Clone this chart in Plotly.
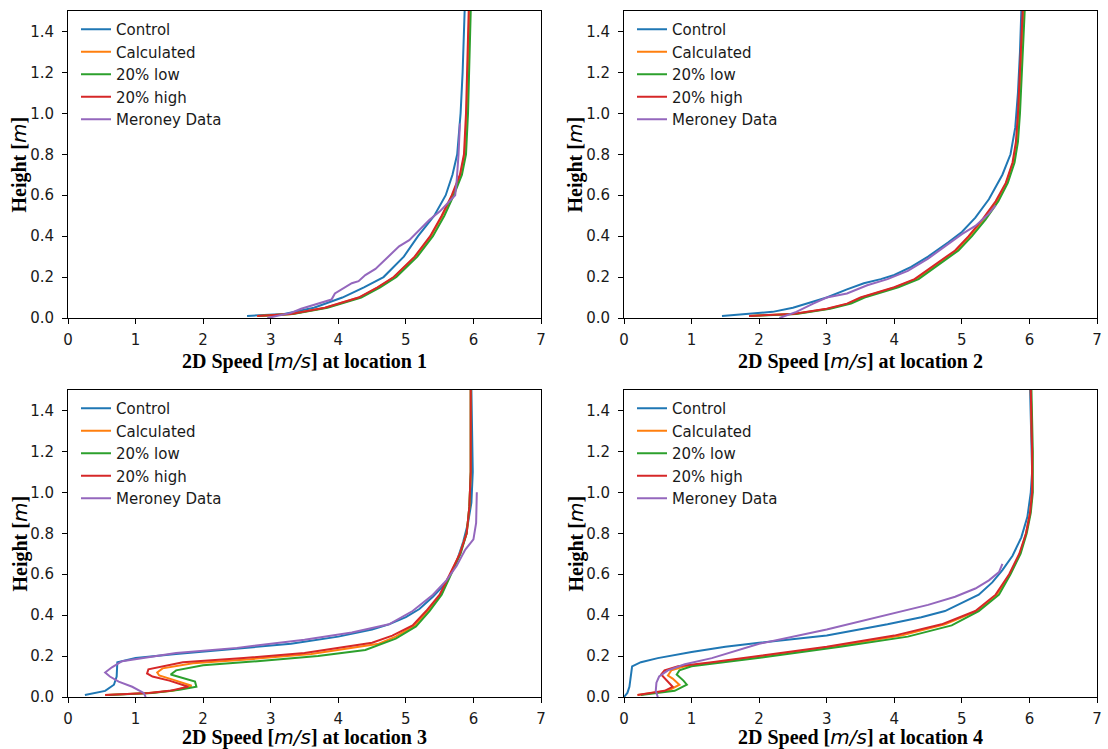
import plotly.graph_objects as go

# ---------------- wind-speed profiles (speed in m/s, height in m) ----------------
# Location 1
ctrl1_v = [2.65, 3.20, 3.64, 4.06, 4.38, 4.67, 4.97, 5.18, 5.42, 5.59, 5.69, 5.76, 5.81, 5.84, 5.87]
ctrl1_h = [0.01, 0.02, 0.05, 0.10, 0.15, 0.20, 0.30, 0.40, 0.50, 0.60, 0.70, 0.80, 1.00, 1.20, 1.50]
calc1_v = [2.80, 3.31, 3.81, 4.31, 4.59, 4.83, 5.14, 5.37, 5.54, 5.69, 5.81, 5.87, 5.90, 5.92, 5.94]
calc1_h = [0.01, 0.02, 0.05, 0.10, 0.15, 0.20, 0.30, 0.40, 0.50, 0.60, 0.70, 0.80, 1.00, 1.20, 1.50]
low1_v = [2.82, 3.33, 3.84, 4.34, 4.62, 4.86, 5.17, 5.40, 5.57, 5.71, 5.83, 5.89, 5.92, 5.94, 5.96]
low1_h = [0.01, 0.02, 0.05, 0.10, 0.15, 0.20, 0.30, 0.40, 0.50, 0.60, 0.70, 0.80, 1.00, 1.20, 1.50]
high1_v = [2.80, 3.30, 3.80, 4.30, 4.58, 4.82, 5.13, 5.36, 5.53, 5.68, 5.80, 5.86, 5.89, 5.91, 5.93]
high1_h = [0.01, 0.02, 0.05, 0.10, 0.15, 0.20, 0.30, 0.40, 0.50, 0.60, 0.70, 0.80, 1.00, 1.20, 1.50]
mer1_v = [2.95, 3.30, 3.45, 3.60, 3.90, 3.95, 4.10, 4.20, 4.30, 4.40, 4.55, 4.75, 4.90, 5.05,
          5.20, 5.35, 5.50, 5.65, 5.73, 5.75, 5.78, 5.80]
mer1_h = [0.00, 0.025, 0.045, 0.06, 0.09, 0.12, 0.15, 0.17, 0.18, 0.21, 0.24, 0.30, 0.35, 0.38,
          0.43, 0.48, 0.52, 0.57, 0.60, 0.66, 0.80, 0.95]

# Location 2
ctrl2_v = [1.45, 2.20, 2.50, 2.80, 3.00, 3.30, 3.55, 3.80, 4.00, 4.25, 4.50, 4.80, 5.00, 5.20,
           5.40, 5.60, 5.72, 5.79, 5.83, 5.86, 5.88]
ctrl2_h = [0.01, 0.03, 0.05, 0.08, 0.10, 0.14, 0.17, 0.19, 0.21, 0.25, 0.30, 0.37, 0.42, 0.49,
           0.58, 0.70, 0.80, 0.93, 1.10, 1.30, 1.50]
calc2_v = [1.85, 2.52, 3.02, 3.32, 3.52, 3.72, 4.02, 4.32, 4.62, 4.92, 5.12, 5.32, 5.52, 5.66,
           5.76, 5.81, 5.84, 5.88, 5.91]
calc2_h = [0.01, 0.02, 0.045, 0.07, 0.10, 0.12, 0.15, 0.19, 0.26, 0.33, 0.40, 0.48, 0.57, 0.66,
           0.76, 0.86, 1.00, 1.30, 1.50]
low2_v = [1.88, 2.55, 3.05, 3.36, 3.56, 3.76, 4.06, 4.36, 4.66, 4.95, 5.15, 5.35, 5.54, 5.68,
          5.78, 5.83, 5.86, 5.90, 5.93]
low2_h = [0.01, 0.02, 0.045, 0.07, 0.10, 0.12, 0.15, 0.19, 0.26, 0.33, 0.40, 0.48, 0.57, 0.66,
          0.76, 0.86, 1.00, 1.30, 1.50]
high2_v = [1.85, 2.50, 3.00, 3.30, 3.50, 3.70, 4.00, 4.30, 4.60, 4.90, 5.10, 5.30, 5.50, 5.65,
           5.75, 5.80, 5.83, 5.87, 5.90]
high2_h = [0.01, 0.02, 0.045, 0.07, 0.10, 0.12, 0.15, 0.19, 0.26, 0.33, 0.40, 0.48, 0.57, 0.66,
           0.76, 0.86, 1.00, 1.30, 1.50]
mer2_v = [2.30, 2.55, 2.80, 3.00, 3.30, 3.60, 3.90, 4.20, 4.50, 4.80, 5.00, 5.20, 5.40, 5.50]
mer2_h = [0.00, 0.03, 0.07, 0.10, 0.12, 0.16, 0.19, 0.23, 0.29, 0.36, 0.41, 0.45, 0.51, 0.55]

# Location 3
ctrl3_v = [0.25, 0.55, 0.68, 0.72, 0.73, 1.00, 1.60, 2.50, 3.30, 4.00, 4.50, 4.75, 5.00, 5.20,
           5.40, 5.60, 5.75, 5.85, 5.92, 5.97, 5.99, 5.98, 5.97]
ctrl3_h = [0.01, 0.03, 0.06, 0.10, 0.17, 0.19, 0.21, 0.235, 0.26, 0.295, 0.33, 0.355, 0.39, 0.43,
           0.49, 0.56, 0.66, 0.76, 0.85, 0.95, 1.10, 1.30, 1.50]
calc3_v = [0.55, 1.20, 1.55, 1.83, 1.55, 1.35, 1.32, 1.40, 1.85, 2.70, 3.60, 4.10, 4.60, 4.85,
           5.13, 5.32, 5.52, 5.66, 5.80, 5.90, 5.94, 5.96, 5.96]
calc3_h = [0.01, 0.02, 0.03, 0.055, 0.085, 0.105, 0.12, 0.14, 0.165, 0.185, 0.21, 0.235, 0.26, 0.295,
           0.35, 0.42, 0.50, 0.60, 0.70, 0.80, 0.93, 1.10, 1.50]
low3_v = [0.60, 1.25, 1.65, 1.90, 1.88, 1.65, 1.52, 1.60, 2.00, 2.80, 3.70, 4.40, 4.85, 5.15,
          5.35, 5.53, 5.67, 5.81, 5.90, 5.94, 5.96, 5.96]
low3_h = [0.01, 0.02, 0.035, 0.05, 0.075, 0.095, 0.11, 0.13, 0.155, 0.175, 0.20, 0.23, 0.285, 0.345,
          0.42, 0.50, 0.60, 0.70, 0.80, 0.93, 1.10, 1.50]
high3_v = [0.55, 1.20, 1.50, 1.78, 1.50, 1.25, 1.17, 1.19, 1.70, 2.60, 3.50, 4.00, 4.50, 4.80,
           5.10, 5.30, 5.50, 5.65, 5.80, 5.90, 5.94, 5.96, 5.96]
high3_h = [0.01, 0.02, 0.03, 0.05, 0.08, 0.10, 0.115, 0.135, 0.17, 0.19, 0.215, 0.24, 0.265, 0.30,
           0.35, 0.42, 0.50, 0.60, 0.70, 0.80, 0.93, 1.10, 1.50]
mer3_v = [1.15, 1.12, 0.95, 0.75, 0.62, 0.55, 0.65, 0.75, 0.80, 1.60, 2.50, 3.50, 4.20, 4.75,
          5.10, 5.40, 5.60, 5.75, 5.88, 6.00, 6.04, 6.05]
mer3_h = [0.00, 0.02, 0.05, 0.075, 0.10, 0.12, 0.145, 0.165, 0.175, 0.215, 0.24, 0.28, 0.315, 0.355,
          0.42, 0.50, 0.57, 0.64, 0.72, 0.77, 0.85, 1.00]

# Location 4
ctrl4_v = [0.00, 0.05, 0.08, 0.10, 0.12, 0.25, 0.50, 1.00, 1.50, 2.00, 3.00, 3.90, 4.40, 4.75,
           5.00, 5.25, 5.45, 5.60, 5.75, 5.88, 5.97, 6.02, 6.04, 6.03, 6.01]
ctrl4_h = [0.00, 0.02, 0.05, 0.10, 0.15, 0.17, 0.19, 0.22, 0.245, 0.265, 0.30, 0.355, 0.39, 0.42,
           0.46, 0.50, 0.56, 0.62, 0.69, 0.78, 0.88, 1.00, 1.10, 1.30, 1.50]
calc4_v = [0.20, 0.65, 0.82, 0.72, 0.65, 0.70, 0.90, 1.40, 2.10, 3.10, 4.10, 4.75, 5.22, 5.52,
           5.71, 5.86, 5.95, 6.01, 6.04, 6.04, 6.02]
calc4_h = [0.01, 0.03, 0.06, 0.09, 0.105, 0.13, 0.15, 0.17, 0.20, 0.245, 0.30, 0.355, 0.42, 0.50,
           0.60, 0.70, 0.80, 0.90, 1.00, 1.20, 1.50]
low4_v = [0.25, 0.75, 0.93, 0.88, 0.78, 0.82, 1.00, 1.50, 2.20, 3.20, 4.20, 4.85, 5.25, 5.55,
          5.72, 5.87, 5.96, 6.02, 6.05, 6.05, 6.03]
low4_h = [0.01, 0.03, 0.06, 0.08, 0.11, 0.13, 0.15, 0.17, 0.20, 0.245, 0.295, 0.35, 0.42, 0.50,
          0.60, 0.70, 0.80, 0.90, 1.00, 1.20, 1.50]
high4_v = [0.20, 0.60, 0.72, 0.60, 0.55, 0.60, 0.80, 1.30, 2.00, 3.00, 4.00, 4.70, 5.20, 5.50,
           5.70, 5.85, 5.95, 6.01, 6.04, 6.04, 6.02]
high4_h = [0.01, 0.03, 0.05, 0.09, 0.11, 0.13, 0.15, 0.17, 0.20, 0.245, 0.30, 0.355, 0.42, 0.50,
           0.60, 0.70, 0.80, 0.90, 1.00, 1.20, 1.50]
mer4_v = [0.50, 0.47, 0.48, 0.52, 0.65, 0.90, 1.30, 2.00, 3.00, 3.90, 4.50, 4.90, 5.20, 5.40,
          5.55, 5.60]
mer4_h = [0.00, 0.03, 0.07, 0.10, 0.13, 0.16, 0.19, 0.26, 0.33, 0.40, 0.45, 0.49, 0.53, 0.57,
          0.61, 0.65]

series_names = ["Control", "Calculated", "20% low", "20% high", "Meroney Data"]
series_colors = ["#1f77b4", "#ff7f0e", "#2ca02c", "#d62728", "#9467bd"]
x_ticks = [0, 1, 2, 3, 4, 5, 6, 7]
y_ticks = [0.0, 0.2, 0.4, 0.6, 0.8, 1.0, 1.2, 1.4]

locations = [
    [(ctrl1_v, ctrl1_h), (calc1_v, calc1_h), (low1_v, low1_h), (high1_v, high1_h), (mer1_v, mer1_h)],
    [(ctrl2_v, ctrl2_h), (calc2_v, calc2_h), (low2_v, low2_h), (high2_v, high2_h), (mer2_v, mer2_h)],
    [(ctrl3_v, ctrl3_h), (calc3_v, calc3_h), (low3_v, low3_h), (high3_v, high3_h), (mer3_v, mer3_h)],
    [(ctrl4_v, ctrl4_h), (calc4_v, calc4_h), (low4_v, low4_h), (high4_v, high4_h), (mer4_v, mer4_h)],
]

# ---------------- layout geometry (pixels of a 1108 x 749 canvas) ----------------
W, H = 1108, 749
col_px = [(68, 541), (624, 1097)]
row_px = [(11, 318), (390, 697)]  # (top, bottom)

fig = go.Figure()
layout = dict(
    width=W, height=H,
    margin=dict(l=0, r=0, t=0, b=0),
    paper_bgcolor="white", plot_bgcolor="white",
    font=dict(family="DejaVu Sans", size=15, color="black"),
    showlegend=True,
)

# bold serif labels with the units set in a sans italic, like math text
math = "<span style='font-family:DejaVu Sans;font-weight:normal'><i>{}</i></span>"
title_font = dict(family="Liberation Serif", size=20, color="black")

annotations = []
for k, series in enumerate(locations):
    r, c = divmod(k, 2)
    x0, x1 = col_px[c]
    top, bot = row_px[r]
    sfx = "" if k == 0 else str(k + 1)
    xa, ya = "x" + sfx, "y" + sfx
    leg = "legend" + sfx

    for (vals, hts), name, color in zip(series, series_names, series_colors):
        fig.add_trace(go.Scatter(
            x=vals, y=hts, mode="lines", name=name,
            line=dict(color=color, width=2),
            xaxis=xa, yaxis=ya, legend=leg, legendgroup=name + sfx,
            hoverinfo="skip",
        ))

    axis_common = dict(
        showgrid=False, zeroline=False, showline=True, mirror=True,
        linecolor="black", linewidth=1, ticks="outside", ticklen=5,
        tickwidth=1, tickcolor="black", automargin=False,
        tickfont=dict(family="DejaVu Sans", size=15, color="#1a1a1a"),
    )
    layout["xaxis" + sfx] = dict(
        axis_common, domain=[x0 / W, x1 / W], range=[0, 7],
        tickvals=x_ticks, ticktext=[str(t) for t in x_ticks],
        anchor=ya, ticklabelstandoff=3,
        title=dict(
            text="<b>2D Speed [</b>" + math.format("m/s") + f"<b>] at location {k + 1}</b>",
            font=title_font, standoff=0,
        ),
    )
    layout["yaxis" + sfx] = dict(
        axis_common, domain=[1 - bot / H, 1 - top / H], range=[0, 1.5],
        tickvals=y_ticks, ticktext=[f"{t:.1f}" for t in y_ticks],
        anchor=xa, ticklabelstandoff=5,
    )
    layout[leg] = dict(
        x=(x0 + 8) / W, y=1 - (top + 2) / H, xanchor="left", yanchor="top",
        bgcolor="rgba(255,255,255,0)", borderwidth=0,
        font=dict(family="DejaVu Sans", size=15, color="#1a1a1a"),
        itemwidth=30, tracegroupgap=0,
    )

    annotations.append(dict(
        text="<b>Height [</b>" + math.format("m") + "<b>]</b>",
        xref="paper", yref="paper", x=(x0 - 49) / W, y=1 - (top + bot) / 2 / H,
        xanchor="center", yanchor="middle", textangle=-90, showarrow=False,
        font=title_font,
    ))

layout["annotations"] = annotations
fig.update_layout(**layout)
fig.write_html("out.html")
